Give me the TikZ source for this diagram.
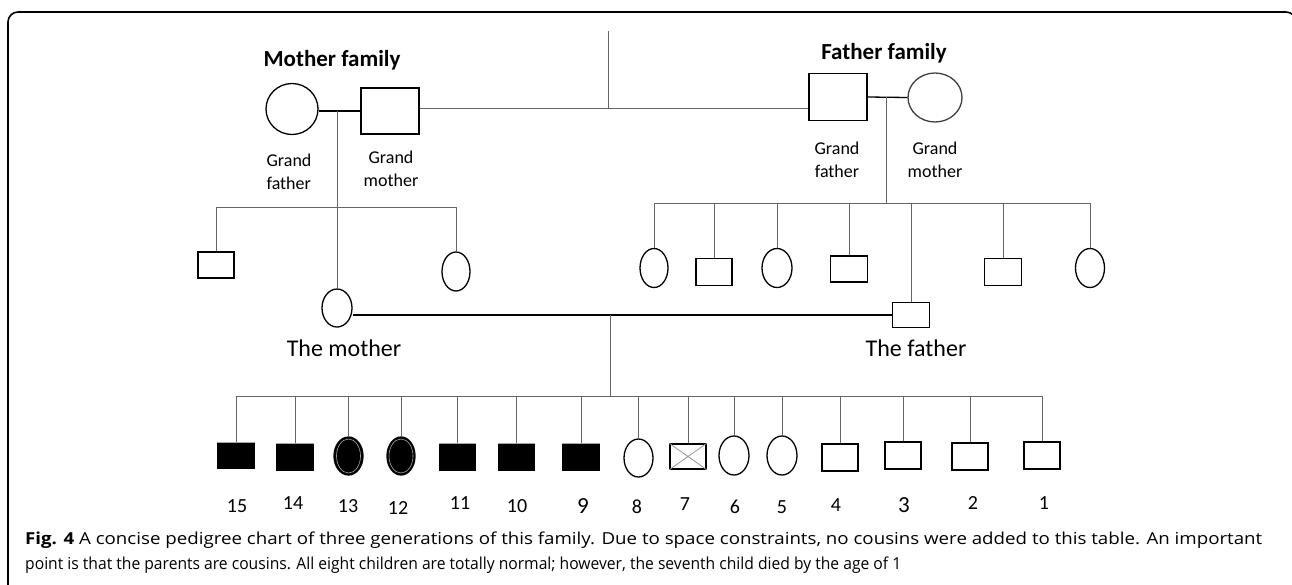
\documentclass[tikz,border=0pt]{standalone}
\usepackage{fontspec}
\setmainfont{Carlito}
\newfontfamily\capfont{Open Sans}
\usetikzlibrary{shapes.geometric}
\definecolor{linegray}{HTML}{666666}
\newsavebox\capboxa
\newsavebox\capboxb
\begin{document}
\sbox\capboxa{\capfont\fontsize{16.5}{20}\selectfont\textbf{Fig. 4} A concise pedigree chart of three generations of this family. Due to space constraints, no cousins were added to this table. An important}%
\sbox\capboxb{\capfont\fontsize{16.5}{20}\selectfont point is that the parents are cousins. All eight children are totally normal; however, the seventh child died by the age of 1}%
\begin{tikzpicture}[x=1pt,y=-1pt,
  conn/.style={draw=linegray, line width=1},
  sq/.style={rectangle, draw=black, line width=1.3, minimum width=36pt, minimum height=26pt, inner sep=0},
  ov/.style={ellipse, draw=black, line width=1.3, minimum width=29pt, minimum height=38pt, inner sep=0},
  aff/.style={fill=black},
  lbl/.style={font=\fontsize{18}{23}\selectfont, inner sep=0, align=center},
  title/.style={font=\fontsize{23}{26}\selectfont\bfseries, inner sep=0, anchor=base},
  par/.style={font=\fontsize{24}{26}\selectfont, inner sep=0},
  num/.style={font=\fontsize{20}{22}\selectfont, inner sep=0},
  bignum/.style={font=\fontsize{23}{24}\selectfont, inner sep=0}
]
\useasboundingbox (0,0) rectangle (1292,584);
\fill[white] (0,0) rectangle (1292,584);
% frame
\draw[line width=1.6, rounded corners=10pt] (8,600) -- (8,12) -- (1296,12) -- (1296,600);

% ---------- grandparents ----------
\node[title] (mft) at (332,66) {Mother family};
\node[title] (fft) at (884,59) {Father family};

\node[ellipse, draw=black, line width=1.3, minimum width=52pt, minimum height=51pt, inner sep=0] (mgf) at (292,109) {};
\node[sq, minimum width=58pt, minimum height=46pt] (mgm) at (390,111) {};
\node[sq, minimum width=58pt, minimum height=47pt] (pgf) at (838,97) {};
\node[ellipse, draw=black!75, line width=1.3, minimum width=54pt, minimum height=49pt, inner sep=0] (pgm) at (935,97.5) {};

\node[lbl, align=left] (mgfl) at (289,171.5) {Grand\\father};
\node[lbl] (mgml) at (391,168.5) {Grand\\mother};
\node[lbl] (pgfl) at (837,160) {Grand\\father};
\node[lbl] (pgml) at (935,160) {Grand\\mother};

\coordinate (top) at (608,31);
\coordinate (topj) at (608,108);
\draw[conn] (top) -- (topj);
\draw[conn] (mgm.east |- topj) -- (pgf.west |- topj);
\draw[black, line width=1.3] (mgm.west) -- (mgm.west -| mgf.east);
\draw[black, line width=1.3] (pgf.east) -- (pgm.west);

\coordinate (mgc) at (337,111);
\coordinate (pgc) at (886,97);

% ---------- maternal sibship ----------
\coordinate (msb) at (337,207);
\node[sq] (ms1) at (216,265) {};
\node[ov, minimum width=28pt, minimum height=39pt] (ms2) at (456,271.5) {};
\node[ov, minimum width=30pt, minimum height=38pt] (mother) at (337,308) {};
\draw[conn] (ms1.north |- msb) -- (ms2.north |- msb);
\draw[conn] (ms1.north) -- (ms1.north |- msb);
\draw[conn] (ms2.north) -- (ms2.north |- msb);
\draw[conn] (mgc) -- (mother.north);

% ---------- paternal sibship ----------
\coordinate (psb) at (886,203);
\node[ov, minimum width=28pt, minimum height=39pt] (p1) at (654,268) {};
\node[sq, minimum height=27pt] (p2) at (714,272) {};
\node[ov, minimum width=30pt, minimum height=39pt] (p3) at (777,268) {};
\node[sq, minimum width=37pt] (p4) at (849,269) {};
\node[sq, minimum width=37pt, minimum height=25pt] (father) at (911,315) {};
\node[sq, minimum width=37pt, minimum height=27pt] (p6) at (1003,272) {};
\node[ov, minimum width=29pt, minimum height=39pt] (p7) at (1090,268) {};
\draw[conn] (p1.north |- psb) -- (p7.north |- psb);
\foreach \n in {p1,p2,p3,p4,father,p6,p7} {\draw[conn] (\n.north) -- (\n.north |- psb);}
\draw[conn] (pgc) -- (psb);

% ---------- parents ----------
\node[par] (motl) at (344,348) {The mother};
\node[par] (fatl) at (916,348) {The father};
\coordinate (mar) at (610,315);
\draw[black, line width=2] (father.west) -- (father.west -| mother.east);

% ---------- children ----------
\coordinate (cb) at (610,396);
\node[sq, aff, minimum height=25pt] (c15) at (236,455.5) {};
\node[sq, aff] (c14) at (295,457) {};
\node[ov, aff] (c13) at (348.5,456) {};
\node[ov, aff, minimum width=28pt] (c12) at (401,456) {};
\node[sq, aff, minimum width=35pt] (c11) at (457.5,457) {};
\node[sq, aff, minimum width=35pt] (c10) at (516.5,457) {};
\node[sq, aff] (c9) at (581,457) {};
\node[ov] (c8) at (638.5,458) {};
\node[sq, minimum height=25pt] (c7) at (688,456.5) {};
\node[ov, minimum width=30pt, minimum height=39pt] (c6) at (734,455.5) {};
\node[ov, minimum width=30pt, minimum height=39pt] (c5) at (782,455.5) {};
\node[sq, minimum height=27pt] (c4) at (840,457.5) {};
\node[sq, minimum height=27pt] (c3) at (903,455.5) {};
\node[sq, minimum height=27pt] (c2) at (970,456.5) {};
\node[sq, minimum height=27pt] (c1) at (1042,455.5) {};
% affected details
\foreach \n in {c15,c14,c11,c10,c9} {\draw[gray!70, line width=1.3] (\n.north west) -- (\n.north east);}
\foreach \n in {c13,c12} {\draw[gray!70, line width=0.6] (\n.center) ellipse[x radius=12pt, y radius=17pt];}
\draw[gray!80, line width=0.8] (c7.north west) -- (c7.south east) (c7.north east) -- (c7.south west);

\draw[conn] (mar) -- (cb);
\draw[conn] (c15.north |- cb) -- (c1.north |- cb);
\foreach \n in {c15,c14,c13,c12,c11,c10,c9,c8,c7,c6,c5,c4,c3,c2,c1} {\draw[conn] (\n.north) -- (\n.north |- cb);}

\node[num] (n15) at (237,506) {15};
\node[num] (n14) at (293,503) {14};
\node[num] (n13) at (348,506) {13};
\node[num] (n12) at (398,508) {12};
\node[num] (n11) at (460,503) {11};
\node[num] (n10) at (517,506) {10};
\node[bignum] (n9) at (583,506) {9};
\node[num] (n8) at (637,507) {8};
\node[num] (n7) at (685,504) {7};
\node[num] (n6) at (735,507) {6};
\node[num] (n5) at (782,507) {5};
\node[num] (n4) at (836,505) {4};
\node[bignum] (n3) at (904,505) {3};
\node[num] (n2) at (973,503) {2};
\node[num] (n1) at (1044,503) {1};

% ---------- caption ----------
\node[anchor=base west, inner sep=0] (cap1) at (25,544) {\resizebox{1237pt}{\height}{\usebox\capboxa}};
\node[anchor=base west, inner sep=0] (cap2) at (25,569) {\resizebox{876pt}{\height}{\usebox\capboxb}};
\end{tikzpicture}
\end{document}
